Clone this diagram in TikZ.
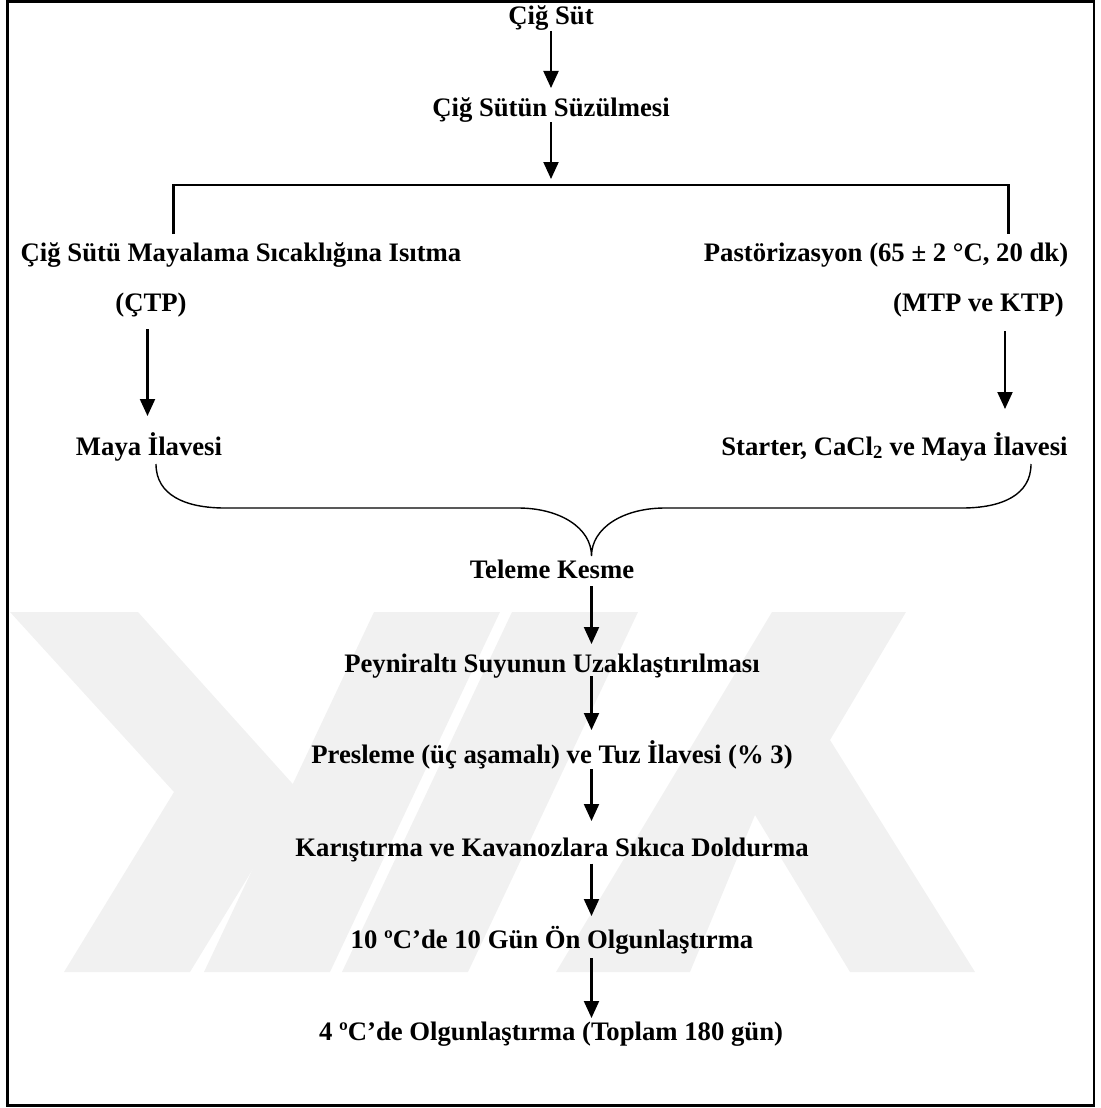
\documentclass[tikz,border=0pt]{standalone}
\usepackage{fontspec}
\setmainfont{Liberation Serif}
\usetikzlibrary{arrows.meta}
\definecolor{wm}{RGB}{241,241,241}
\begin{document}
\begin{tikzpicture}[x=1pt,y=-1pt,
  lbl/.style={font=\fontsize{26.7}{30}\selectfont\bfseries, inner sep=0pt, anchor=base},
  flow/.style={line width=2.1pt, -{Triangle[length=17pt,width=15pt]}},
  brk/.style={line width=2.6pt},
  brace/.style={line width=1.4pt},
  wmark/.style={fill=wm, draw=none}
]
\useasboundingbox (0,0) rectangle (1100,1108);

% watermark (light grey stripes)
\fill[wmark] (10,612) -- (138,612) -- (300,792) -- (190,972) -- (64,972) -- (174,792) -- cycle;
\fill[wmark] (204,972) -- (330,972) -- (500,612) -- (374,612) -- cycle;
\fill[wmark] (342,972) -- (468,972) -- (638,612) -- (512,612) -- cycle;
\fill[wmark] (772,612) -- (906,612) -- (830,740) -- (975,972) -- (850,972) -- (755,815) -- (690,972) -- (556,972) -- cycle;

\draw[line width=2.5pt] (7.5,1.5) rectangle (1094,1105.5);

% texts
\node[lbl] (n1) at (551,25) {Çiğ Süt};
\node[lbl] (n2) at (551,116.7) {Çiğ Sütün Süzülmesi};
\node[lbl] (l1) at (241,261.4) {Çiğ Sütü Mayalama Sıcaklığına Isıtma};
\node[lbl] (l2) at (151,311.6) {(ÇTP)};
\node[lbl] (l3) at (149,455) {Maya İlavesi};
\node[lbl] (r1) at (886,261.4) {Pastörizasyon (65 ± 2 °C, 20 dk)};
\node[lbl] (r2) at (978.5,311.6) {(MTP ve KTP)};
\node[lbl] (r3) at (894.5,455) {Starter, CaCl\textsubscript{2} ve Maya İlavesi};
\node[lbl] (m1) at (552,578) {Teleme Kesme};
\node[lbl] (m2) at (552,672) {Peyniraltı Suyunun Uzaklaştırılması};
\node[lbl] (m3) at (552,763.5) {Presleme (üç aşamalı) ve Tuz İlavesi (\% 3)};
\node[lbl] (m4) at (552,856) {Karıştırma ve Kavanozlara Sıkıca Doldurma};
\node[lbl] (m5) at (552,948) {10 ºC’de 10 Gün Ön Olgunlaştırma};
\node[lbl] (m6) at (551,1040.7) {4 ºC’de Olgunlaştırma (Toplam 180 gün)};

% arrow end points
\coordinate (a1s) at (551,31);   \coordinate (a1e) at (551,88);
\coordinate (a2s) at (551,122);  \coordinate (a2e) at (551,179);
\coordinate (a3s) at (147.5,329); \coordinate (a3e) at (147.5,416);
\coordinate (a4s) at (1005,331); \coordinate (a4e) at (1005,409);
\coordinate (a5s) at (591.5,586); \coordinate (a5e) at (591.5,644);
\coordinate (a6s) at (591.5,676); \coordinate (a6e) at (591.5,730);
\coordinate (a7s) at (591.5,769); \coordinate (a7e) at (591.5,821);
\coordinate (a8s) at (591.5,863.5); \coordinate (a8e) at (591.5,916);
\coordinate (a9s) at (591.5,958); \coordinate (a9e) at (591.5,1018);

\draw[flow] (a1s) -- (a1e);
\draw[flow] (a2s) -- (a2e);
\draw[flow] (a3s) -- (a3e);
\draw[flow] (a4s) -- (a4e);
\draw[flow] (a5s) -- (a5e);
\draw[flow] (a6s) -- (a6e);
\draw[flow] (a7s) -- (a7e);
\draw[flow] (a8s) -- (a8e);
\draw[flow] (a9s) -- (a9e);

% split bracket
\coordinate (bl) at (173.7,234);
\coordinate (br) at (1008.5,234);
\draw[brk] (bl) -- (173.7,185) -- (1008.5,185) -- (br);

% brace
\coordinate (cl) at (156,464);
\coordinate (cr) at (1031,464);
\coordinate (ct) at (591.5,556);
\draw[brace] (cl) .. controls (156,495) and (185,508) .. (225,508)
  -- (518,508) .. controls (560,508) and (591.5,528) .. (ct)
  .. controls (591.5,528) and (623,508) .. (665,508)
  -- (962,508) .. controls (1002,508) and (1031,495) .. (cr);
\end{tikzpicture}
\end{document}
